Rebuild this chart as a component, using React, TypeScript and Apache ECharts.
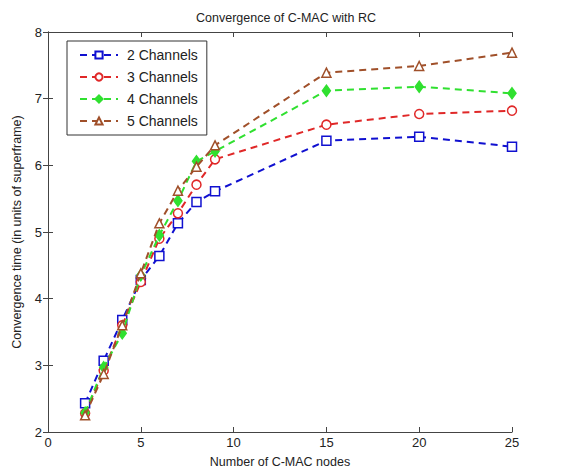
import React, { useEffect, useRef } from "react";
import * as echarts from "echarts";

const xValues = [2, 3, 4, 5, 6, 7, 8, 9, 15, 20, 25];
const ch2 = [2.43, 3.07, 3.68, 4.28, 4.64, 5.13, 5.45, 5.61, 6.37, 6.43, 6.28];
const ch3 = [2.28, 2.92, 3.6, 4.25, 4.9, 5.28, 5.71, 6.09, 6.61, 6.77, 6.82];
const ch4 = [2.29, 2.97, 3.48, 4.35, 4.95, 5.47, 6.06, 6.21, 7.12, 7.18, 7.08];
const ch5 = [2.25, 2.87, 3.6, 4.38, 5.13, 5.62, 5.98, 6.3, 7.39, 7.49, 7.69];
const seriesNames = ["2 Channels", "3 Channels", "4 Channels", "5 Channels"];
const seriesColors = ["#1010d0", "#e02828", "#30e030", "#a0502a"];
const seriesSymbols = ["rect", "circle", "diamond", "triangle"];

export default function App() {
  const ref = useRef<HTMLDivElement>(null);
  useEffect(() => {
    if (!ref.current) return;
    const chart = echarts.init(ref.current, null, { renderer: "svg" });
    const datas = [ch2, ch3, ch4, ch5];
    const font = "Liberation Sans, Arial, sans-serif";
    chart.setOption({
      animation: false,
      backgroundColor: "#ffffff",
      title: {
        text: "Convergence of C-MAC with RC",
        left: 281,
        textAlign: "center",
        top: 6,
        textStyle: { fontFamily: font, fontSize: 12.5, fontWeight: "normal", color: "#222" },
      },
      grid: { left: 48, top: 32, width: 464, height: 400, containLabel: false },
      legend: {
        left: 67,
        top: 41,
        orient: "vertical",
        data: seriesNames,
        itemWidth: 38,
        itemHeight: 9,
        itemGap: 8,
        padding: [7, 9, 7, 12],
        borderColor: "#333",
        borderWidth: 1,
        backgroundColor: "#fff",
        textStyle: { fontFamily: font, fontSize: 14, lineHeight: 14, color: "#222", padding: [0, 0, 0, 4] },
      },
      xAxis: [
        {
          type: "value",
          min: 0,
          max: 25,
          interval: 5,
          position: "bottom",
          name: "Number of C-MAC nodes",
          nameLocation: "middle",
          nameGap: 23,
          nameTextStyle: { fontFamily: font, fontSize: 12.5, color: "#222" },
          axisLine: { show: true, lineStyle: { color: "#444", width: 1 } },
          axisTick: { show: true, inside: true, length: 5, lineStyle: { color: "#444" } },
          axisLabel: { fontFamily: font, fontSize: 13, color: "#222", margin: 4 },
          splitLine: { show: false },
        },
        {
          type: "value",
          min: 0,
          max: 25,
          interval: 5,
          position: "top",
          axisLine: { show: true, lineStyle: { color: "#444", width: 1 } },
          axisTick: { show: true, inside: true, length: 5, lineStyle: { color: "#444" } },
          axisLabel: { show: false },
          splitLine: { show: false },
        },
      ],
      yAxis: [
        {
          type: "value",
          min: 2,
          max: 8,
          interval: 1,
          position: "left",
          name: "Convergence time (in units of superframe)",
          nameLocation: "middle",
          nameGap: 23,
          nameTextStyle: { fontFamily: font, fontSize: 12.5, color: "#222" },
          axisLine: { show: true, lineStyle: { color: "#444", width: 1 } },
          axisTick: { show: true, inside: true, length: 5, lineStyle: { color: "#444" } },
          axisLabel: { fontFamily: font, fontSize: 13, color: "#222", margin: 6 },
          splitLine: { show: false },
        },
        {
          type: "value",
          min: 2,
          max: 8,
          interval: 1,
          position: "right",
          axisLine: { show: true, lineStyle: { color: "#444", width: 1 } },
          axisTick: { show: true, inside: true, length: 5, lineStyle: { color: "#444" } },
          axisLabel: { show: false },
          splitLine: { show: false },
        },
      ],
      series: seriesNames.map((name, i) => ({
        name,
        type: "line",
        xAxisIndex: 0,
        yAxisIndex: 0,
        data: xValues.map((x, j) => [x, datas[i][j]]),
        symbol: seriesSymbols[i],
        symbolSize: i === 2 ? [8, 11] : 9,
        showAllSymbol: true,
        color: seriesColors[i],
        lineStyle: { type: [7, 5], width: 2, color: seriesColors[i] },
        itemStyle: {
          color: i === 2 ? seriesColors[i] : "#ffffff",
          borderColor: seriesColors[i],
          borderWidth: 1.5,
        },
        z: 2 + i,
      })),
    });
    return () => chart.dispose();
  }, []);
  return (
    <div
      ref={ref}
      style={{ position: "absolute", left: 0, top: 0, width: 571, height: 476 }}
    />
  );
}
